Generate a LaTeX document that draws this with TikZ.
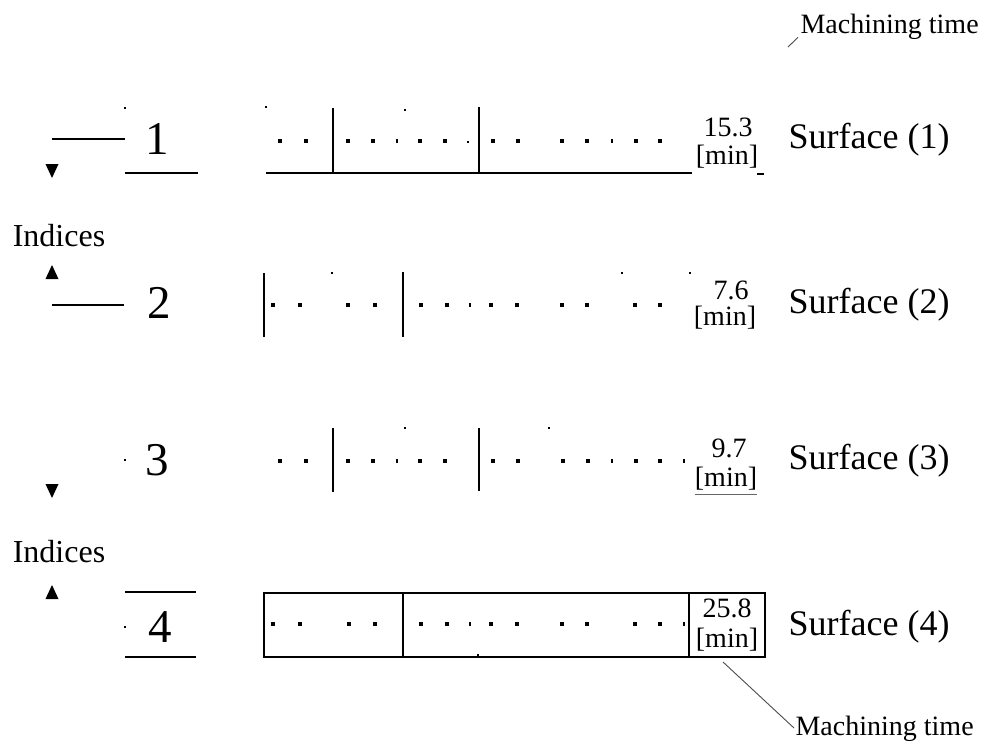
\documentclass[tikz,border=0pt]{standalone}
\usepackage{fontspec}
\setmainfont{Liberation Serif}
\begin{document}
\begin{tikzpicture}[x=1pt,y=-1pt,line width=1.2pt,
  rule/.style={line width=1.2pt},
  digitlabel/.style={font=\fontsize{47}{47}\selectfont,inner sep=0pt},
  surflabel/.style={font=\fontsize{36}{36}\selectfont,anchor=west,inner sep=0pt},
  timeval/.style={font=\fontsize{28}{28}\selectfont,inner sep=0pt},
  timeunit/.style={font=\fontsize{28}{28}\selectfont,inner sep=0pt},
  idxlabel/.style={font=\fontsize{32}{32}\selectfont,inner sep=0pt},
  mtlabel/.style={font=\fontsize{28}{28}\selectfont,inner sep=0pt,anchor=west},
  leader/.style={line width=0.9pt,draw=black!70},
  tri/.style={fill=black}]
\useasboundingbox (0,0) rectangle (986,744);
\fill[white] (0,0) rectangle (986,744);

% ---------- helpers for the tool-path marks ----------
\newcommand{\bigmark}[2]{\fill (#1-2.3,#2-2.3) rectangle (#1+2.3,#2+2.3);}
\newcommand{\smallmark}[2]{\fill (#1-1,#2-1.8) rectangle (#1+1,#2+1.8);}
\newcommand{\speck}[2]{\fill (#1-0.9,#2-0.9) rectangle (#1+0.9,#2+0.9);}
\newcommand{\downtri}[2]{\fill[tri] (#1-6.5,#2-7) -- (#1+6.5,#2-7) -- (#1,#2+7) -- cycle;}
\newcommand{\uptri}[2]{\fill[tri] (#1-6.5,#2+7) -- (#1+6.5,#2+7) -- (#1,#2-7) -- cycle;}

% ---------- index labels on the left ----------
\node[digitlabel] (d1) at (157,139) {1};
\node[digitlabel] (d2) at (159,303) {2};
\node[digitlabel] (d3) at (157,460) {3};
\node[digitlabel] (d4) at (160,627) {4};

\draw[rule] (52,139) -- (125,139);
\draw[rule] (125,173) -- (198,173);
\draw[rule] (52,305) -- (124,305);
\draw[rule] (125,592) -- (196,592);
\draw[rule] (125,657) -- (196,657);
\speck{125}{108}
\speck{125}{460}
\speck{125}{627}

\downtri{52}{171}
\node[idxlabel] (idx1) at (59,236) {Indices};
\uptri{52}{272}
\downtri{52}{491}
\node[idxlabel] (idx2) at (59,552) {Indices};
\uptri{52}{592}

% ---------- surface 1 ----------
\draw[rule] (266,173) -- (692,173);
\draw[rule] (757,174) -- (764,174);
\draw[rule] (333,108) -- (333,173);
\draw[rule] (479,107) -- (479,173);
\foreach \x in {280,306,348,373,420,445,493,518,562,587,636,660} {\bigmark{\x}{141}}
\foreach \x in {397,612} {\smallmark{\x}{141}}
\speck{468}{142}
\speck{266}{107}
\speck{405}{110}
\node[timeval] (t1) at (728,127) {15.3};
\node[timeunit] (u1) at (727,157) {[min]};
\node[surflabel] (s1) at (788,140) {Surface (1)};

% ---------- surface 2 ----------
\draw[rule] (264,273) -- (264,337);
\draw[rule] (403,272) -- (403,337);
\foreach \x in {273,300,348,375,421,447,491,517,562,587,635,660} {\bigmark{\x}{305}}
\smallmark{470}{305}
\speck{332}{273}
\speck{622}{273}
\speck{690}{273}
\node[timeval] (t2) at (731,290) {7.6};
\node[timeunit] (u2) at (725,318) {[min]};
\node[surflabel] (s2) at (788,305) {Surface (2)};

% ---------- surface 3 ----------
\draw[rule] (333,428) -- (333,492);
\draw[rule] (479,428) -- (479,491);
\foreach \x in {280,306,348,373,420,445,493,518,563,588,636,660} {\bigmark{\x}{461}}
\foreach \x in {397,612,684} {\smallmark{\x}{461}}
\speck{405}{428}
\speck{549}{428}
\node[timeval] (t3) at (729,448) {9.7};
\node[timeunit] (u3) at (726,479) {[min]};
\draw[line width=0.8pt,draw=black!60] (695,494) -- (757,494);
\node[surflabel] (s3) at (788,461) {Surface (3)};

% ---------- surface 4 ----------
\draw[rule] (264,593) rectangle (765,657);
\draw[rule] (403,593) -- (403,657);
\draw[rule] (689,593) -- (689,657);
\foreach \x in {273,300,349,375,421,447,491,517,562,587,635,660} {\bigmark{\x}{624}}
\foreach \x in {470,684} {\smallmark{\x}{624}}
\speck{478}{655}
\node[timeval] (t4) at (727,608) {25.8};
\node[timeunit] (u4) at (727,640) {[min]};
\node[surflabel] (s4) at (788,627) {Surface (4)};

% ---------- machining-time callouts ----------
\node[mtlabel] (mt1) at (800,27) {Machining time};
\coordinate (mt1end) at (788,47);
\draw[leader] ([shift={(-2,-3)}]mt1.south west) -- (mt1end);

\node[mtlabel] (mt2) at (795,729) {Machining time};
\coordinate (mt2end) at (723,662);
\draw[leader] (mt2end) -- ([shift={(-1,-1)}]mt2.west);
\end{tikzpicture}
\end{document}
